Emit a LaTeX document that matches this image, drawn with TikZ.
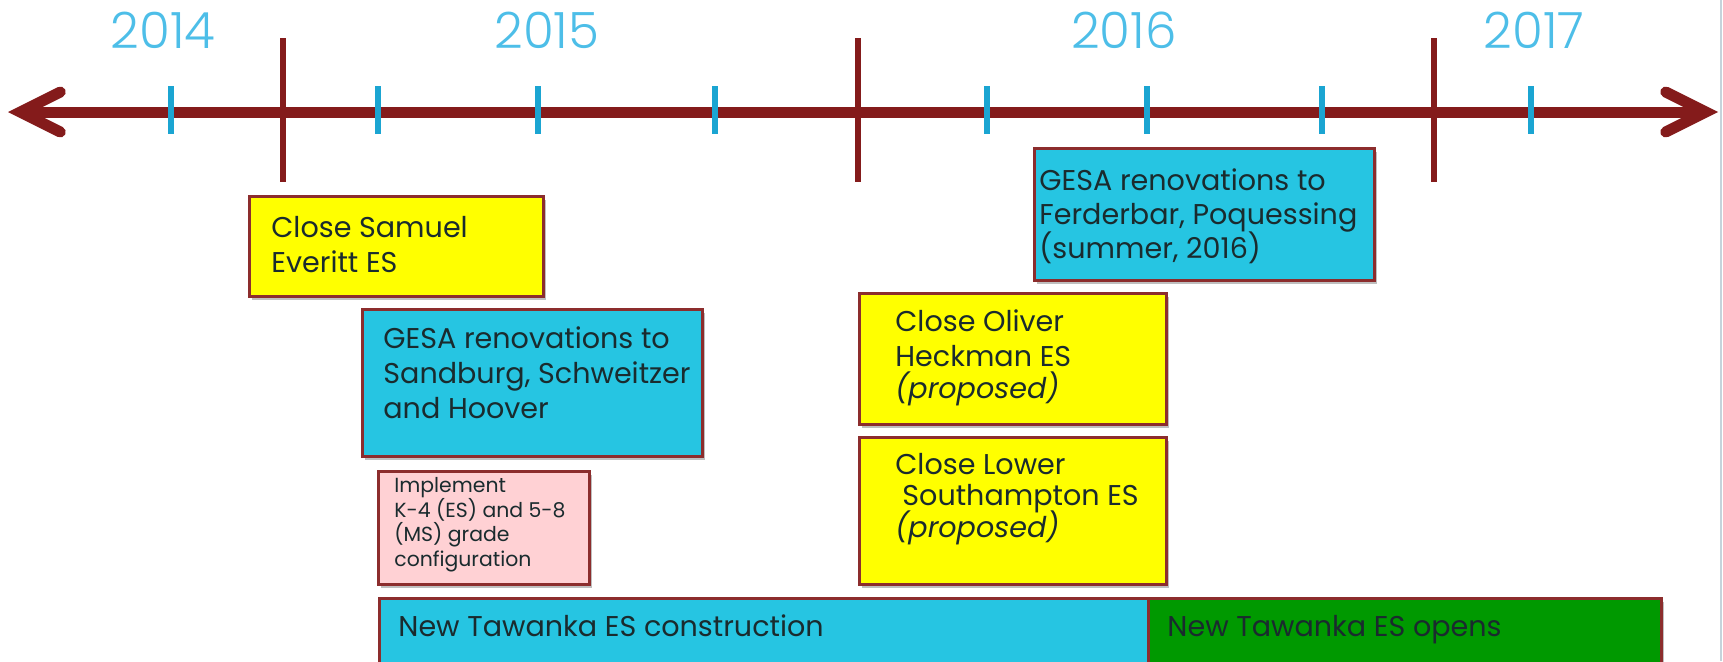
\documentclass[tikz,border=0pt]{standalone}
\usepackage{fontspec}
\setmainfont{Poppins}
\newfontfamily\yearfont{Poppins Light}
\usepackage{xcolor}
\usetikzlibrary{arrows.meta,shadows}

\definecolor{axisred}{HTML}{841B1B}
\definecolor{tickblue}{HTML}{1BA5D2}
\definecolor{yearblue}{HTML}{4DBEE8}
\definecolor{boxred}{HTML}{8C2D2D}
\definecolor{boxyellow}{HTML}{FFFF00}
\definecolor{boxcyan}{HTML}{26C5E2}
\definecolor{boxpink}{HTML}{FFD1D4}
\definecolor{boxgreen}{HTML}{009900}
\definecolor{txtdark}{HTML}{1A2B2E}
\definecolor{edgegray}{HTML}{C5D3DB}

\tikzset{
  yearlbl/.style={anchor=base, inner sep=0pt, text=yearblue, font=\yearfont\fontsize{25}{30}\selectfont},
  tick/.style={draw=tickblue, line width=3pt},
  yearmark/.style={draw=axisred, line width=2.75pt},
  tlbox/.style={rectangle, draw=boxred, line width=1.3pt, inner sep=0pt, anchor=north west,
    drop shadow={shadow xshift=1.2pt, shadow yshift=-1.8pt, fill=black, opacity=0.25}},
  boxtext/.style={align=left, inner sep=0pt, anchor=base west, text=txtdark,
    font=\fontsize{14.3}{17.5}\selectfont\lineskiplimit-50pt\relax},
}

\begin{document}
\begin{tikzpicture}[x=0.5pt,y=-0.5pt]
\clip (0,0) rectangle (1723,661);
	% years
	\node[yearlbl] at (163,48) (y2014) {2014};
	\node[yearlbl] at (547,48) (y2015) {2015};
	\node[yearlbl] at (1124,48) (y2016) {2016};
	\node[yearlbl] at (1534,48) (y2017) {2017};
	% time line
	\coordinate (west) at (8,112);
	\coordinate (east) at (1718,112);
	\draw[axisred, line width=5.5pt,
	  {Straight Barb[length=20pt,width=20pt,line cap=round,line join=miter]}-{Straight Barb[length=20pt,width=20pt,line cap=round,line join=miter]}]
	  (west) -- (east);
	\draw[tick] (171,86) -- (171,134);
	\draw[tick] (378,86) -- (378,134);
	\draw[tick] (538,86) -- (538,134);
	\draw[tick] (715,86) -- (715,134);
	\draw[tick] (987,86) -- (987,134);
	\draw[tick] (1147,86) -- (1147,134);
	\draw[tick] (1322,86) -- (1322,134);
	\draw[tick] (1531,86) -- (1531,134);
	\draw[yearmark] (283,38) -- (283,182);
	\draw[yearmark] (858,38) -- (858,182);
	\draw[yearmark] (1434,38) -- (1434,182);
	% boxes (text nodes sit on their last base line)
	\node[tlbox, fill=boxyellow, minimum width=147pt, minimum height=50pt] at (248,195) (samuel) {};
	\node[boxtext] at (271,272) (samuel-t) {Close Samuel\\Everitt ES};
	\node[tlbox, fill=boxcyan, minimum width=170pt, minimum height=73.5pt] at (361,308) (sandburg) {};
	\node[boxtext] at (383,418) (sandburg-t) {GESA renovations to\\Sandburg, Schweitzer\\and Hoover};
	\node[tlbox, fill=boxpink, minimum width=105.5pt, minimum height=56.5pt] at (377,470) (grades) {};
	\node[boxtext, font=\fontsize{10.2}{12.25}\selectfont\lineskiplimit-50pt\relax] at (394,566) (grades-t) {Implement\\K-4 (ES) and 5-8\\(MS) grade\\configuration};
	\node[tlbox, fill=boxcyan, minimum width=400pt, minimum height=50pt] at (378,597) (build) {};
	\node[boxtext] at (398,636) (build-t) {New Tawanka ES construction};
	\node[tlbox, fill=boxgreen, minimum width=256.5pt, minimum height=50pt] at (1147,597) (opens) {};
	\node[boxtext] at (1167,636) (opens-t) {New Tawanka ES opens};
	\node[tlbox, fill=boxyellow, minimum width=153.5pt, minimum height=65.5pt] at (858,292) (oliver) {};
	\node[boxtext, font=\fontsize{14.3}{17.8}\selectfont\lineskiplimit-50pt\relax] at (895,398) (oliver-t) {Close Oliver\\Heckman ES\\[-2.2pt]\textit{(proposed)}};
	\node[tlbox, fill=boxyellow, minimum width=153.5pt, minimum height=73.5pt] at (858,436) (lower) {};
	\node[boxtext, font=\fontsize{14.3}{15.7}\selectfont\lineskiplimit-50pt\relax] at (895,537) (lower-t) {Close Lower\\\hspace*{3.5pt}Southampton ES\\\textit{(proposed)}};
	\node[tlbox, fill=boxcyan, minimum width=170pt, minimum height=66pt] at (1033,147) (ferderbar) {};
	\node[boxtext, font=\fontsize{14.3}{17}\selectfont\lineskiplimit-50pt\relax] at (1039,258) (ferderbar-t) {GESA renovations to\\Ferderbar, Poquessing\\(summer, 2016)};
	% page edge
	\draw[edgegray, line width=0.6pt] (1721,0) -- (1721,661);
\end{tikzpicture}
\end{document}
